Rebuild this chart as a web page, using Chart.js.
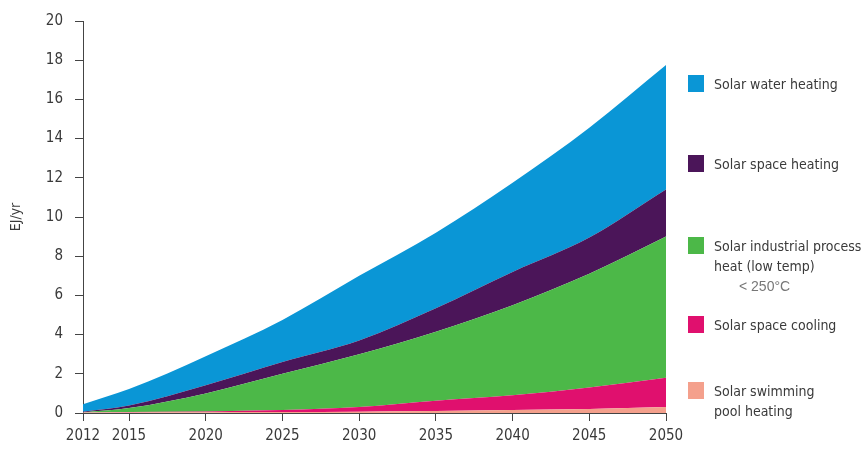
<!DOCTYPE html>
<html>
<head>
<meta charset="utf-8">
<script src="https://cdn.jsdelivr.net/npm/chart.js@4.4.1/dist/chart.umd.min.js"></script>
<style>
  html, body { margin: 0; padding: 0; background: #ffffff; }
  #wrap { position: relative; width: 864px; height: 456px; }
  #c { position: absolute; left: 0; top: 0; }
  .lg { position: absolute; font-family: "Liberation Sans Narrow", "DejaVu Sans Condensed", "Arial Narrow", sans-serif; font-size: 14px; color: #3a3a3a; line-height: 20px; white-space: nowrap; }
  .sw { position: absolute; width: 16px; height: 17px; }
  .note { position: absolute; font-family: "Liberation Sans", Arial, sans-serif; font-size: 14px; color: #777; white-space: nowrap; }
</style>
</head>
<body>
<div id="wrap">
  <canvas id="c" width="864" height="456"></canvas>
  <div id="legend"></div>
</div>
<script>
// ---- data (EJ/yr, individual layer thickness, stacked bottom to top) ----
const years = [2012, 2015, 2020, 2025, 2030, 2035, 2040, 2045, 2050];
const xTickLabels = [2012, 2015, 2020, 2025, 2030, 2035, 2040, 2045, 2050];
const yTickValues = [0, 2, 4, 6, 8, 10, 12, 14, 16, 18, 20];

const poolHeating       = [0.02, 0.03, 0.04, 0.05, 0.07, 0.10, 0.15, 0.20, 0.30];
const spaceCooling      = [0.00, 0.02, 0.04, 0.10, 0.23, 0.52, 0.75, 1.10, 1.50];
const industrialProcess = [0.01, 0.20, 0.92, 1.85, 2.70, 3.53, 4.60, 5.80, 7.20];
const spaceHeating      = [0.03, 0.13, 0.42, 0.60, 0.70, 1.20, 1.70, 1.85, 2.40];
const waterHeating      = [0.39, 0.84, 1.48, 2.15, 3.30, 3.85, 4.55, 5.60, 6.35];

const seriesNames = ["Solar swimming pool heating", "Solar space cooling", "Solar industrial process heat (low temp) < 250°C", "Solar space heating", "Solar water heating"];
const seriesColors = ["#f4a08c", "#e0106e", "#4cb848", "#4b1559", "#0a96d6"];
const seriesValues = [poolHeating, spaceCooling, industrialProcess, spaceHeating, waterHeating];

const datasets = seriesValues.map((vals, i) => ({
  label: seriesNames[i],
  data: vals.map((v, k) => ({ x: years[k], y: v })),
  backgroundColor: seriesColors[i],
  borderColor: seriesColors[i],
  borderWidth: 0,
  pointRadius: 0,
  fill: i === 0 ? 'origin' : '-1',
  cubicInterpolationMode: 'monotone'
}));

const fontFam = '"Liberation Sans Narrow", "DejaVu Sans Condensed", "Arial Narrow", sans-serif';
const axisFont = { family: fontFam, size: 15 };

new Chart(document.getElementById('c'), {
  type: 'line',
  data: { datasets },
  options: {
    responsive: false,
    animation: false,
    layout: { padding: { top: 20, right: 198, bottom: 0, left: 0 } },
    plugins: { legend: { display: false }, tooltip: { enabled: false } },
    scales: {
      x: {
        type: 'linear',
        min: 2012, max: 2050,
        afterBuildTicks: s => { s.ticks = xTickLabels.map(v => ({ value: v })); },
        afterFit: s => { s.height = 43; },
        ticks: { font: axisFont, color: '#3a3a3a', padding: 6, maxRotation: 0, autoSkip: false, callback: v => String(v) },
        grid: { display: true, drawOnChartArea: false, drawTicks: true, tickLength: 8, color: '#444', lineWidth: 1 },
        border: { display: true, color: '#444', width: 1 }
      },
      y: {
        stacked: true,
        min: 0, max: 20,
        afterBuildTicks: s => { s.ticks = yTickValues.map(v => ({ value: v })); },
        afterFit: s => { s.width = 83; },
        ticks: { font: axisFont, color: '#3a3a3a', padding: 12, callback: v => String(v) },
        title: { display: true, text: 'EJ/yr', font: { family: fontFam, size: 14 }, color: '#3a3a3a', padding: { top: 8, bottom: 0 } },
        grid: { display: true, drawOnChartArea: false, drawTicks: true, tickLength: 8, color: '#444', lineWidth: 1 },
        border: { display: true, color: '#444', width: 1 }
      }
    }
  }
});

// ---- legend (HTML text) ----
const legendItems = [
  { color: seriesColors[4], top: 75,  lines: ["Solar water heating"] },
  { color: seriesColors[3], top: 155, lines: ["Solar space heating"] },
  { color: seriesColors[2], top: 237, lines: ["Solar industrial process", "heat (low temp)"] },
  { color: seriesColors[1], top: 316, lines: ["Solar space cooling"] },
  { color: seriesColors[0], top: 382, lines: ["Solar swimming", "pool heating"] }
];
const lg = document.getElementById('legend');
legendItems.forEach(it => {
  const sw = document.createElement('div');
  sw.className = 'sw';
  sw.style.left = '688px';
  sw.style.top = it.top + 'px';
  sw.style.background = it.color;
  lg.appendChild(sw);
  const t = document.createElement('div');
  t.className = 'lg';
  t.style.left = '714px';
  t.style.top = (it.top - 1) + 'px';
  t.innerHTML = it.lines.join('<br>');
  lg.appendChild(t);
});
const note = document.createElement('div');
note.className = 'note';
note.style.left = '739px';
note.style.top = '278px';
note.textContent = '< 250°C';
lg.appendChild(note);
</script>
</body>
</html>
